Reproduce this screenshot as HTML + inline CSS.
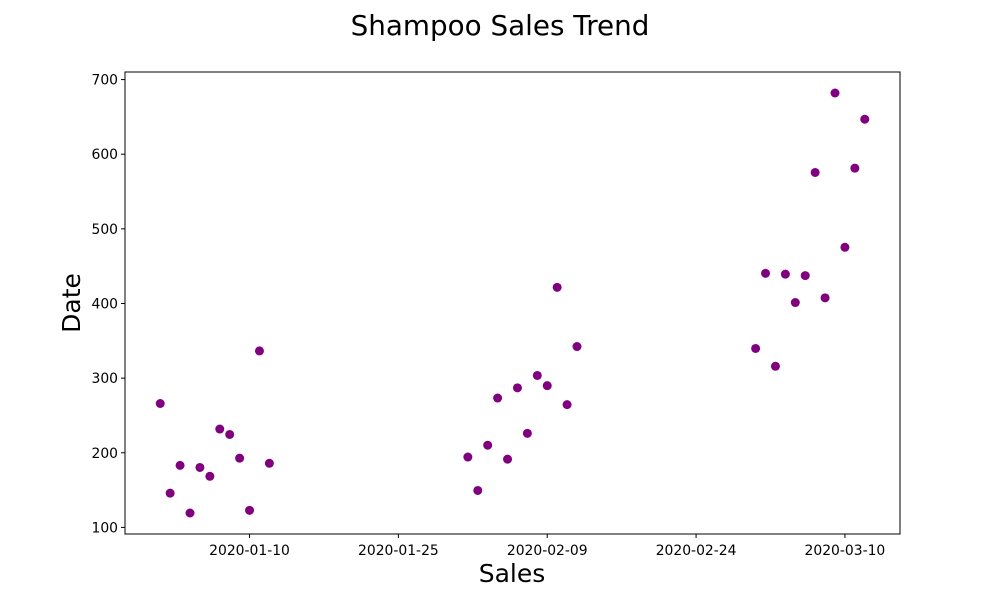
<!DOCTYPE html>
<html><head><meta charset="utf-8"><style>
body{margin:0;background:#fff;font-family:"Liberation Sans","DejaVu Sans",sans-serif}
svg text{font-family:"DejaVu Sans","Liberation Sans",sans-serif}
</style></head><body>
<svg id="chart" width="1000" height="600" xmlns="http://www.w3.org/2000/svg">
<rect width="1000" height="600" fill="#fff"/>
<text x="500" y="35" text-anchor="middle" font-size="27.8">Shampoo Sales Trend</text>
<text x="512" y="582" text-anchor="middle" font-size="25">Sales</text>
<text transform="translate(80,303) rotate(-90)" text-anchor="middle" font-size="25">Date</text>
<g id="ticks"></g>
<g id="points"></g>
<rect x="125" y="72" width="775" height="462" fill="none" stroke="#000" stroke-width="1"/>
</svg>
<script>
const dates = ["2020-01-01","2020-01-02","2020-01-03","2020-01-04","2020-01-05","2020-01-06","2020-01-07","2020-01-08","2020-01-09","2020-01-10","2020-01-11","2020-01-12",
"2020-02-01","2020-02-02","2020-02-03","2020-02-04","2020-02-05","2020-02-06","2020-02-07","2020-02-08","2020-02-09","2020-02-10","2020-02-11","2020-02-12",
"2020-03-01","2020-03-02","2020-03-03","2020-03-04","2020-03-05","2020-03-06","2020-03-07","2020-03-08","2020-03-09","2020-03-10","2020-03-11","2020-03-12"];
const sales = [266.0,145.9,183.1,119.3,180.3,168.5,231.8,224.5,192.8,122.9,336.5,185.9,
194.3,149.5,210.1,273.3,191.4,287.0,226.0,303.6,289.9,421.6,264.5,342.3,
339.7,440.4,315.9,439.3,401.3,437.4,575.5,407.6,682.0,475.3,581.3,646.9];
const xTicks = ["2020-01-10","2020-01-25","2020-02-09","2020-02-24","2020-03-10"];
const yTicks = [100,200,300,400,500,600,700];

const NS="http://www.w3.org/2000/svg";
const day=d=>Date.parse(d+"T00:00:00Z")/86400000;
const dmin=Math.min(...dates.map(day)), dmax=Math.max(...dates.map(day));
const dpad=(dmax-dmin)*0.05;
const vmin=Math.min(...sales), vmax=Math.max(...sales), vpad=(vmax-vmin)*0.05;
const L=125,R=900,T=72,B=534;
const xs=d=>L+(day(d)-(dmin-dpad))/((dmax+dpad)-(dmin-dpad))*(R-L);
const ys=v=>B-(v-(vmin-vpad))/((vmax+vpad)-(vmin-vpad))*(B-T);
const tg=document.getElementById("ticks"), pg=document.getElementById("points");
function mk(tag,attrs){const e=document.createElementNS(NS,tag);for(const k in attrs)e.setAttribute(k,attrs[k]);return e;}
xTicks.forEach(t=>{const x=xs(t);
 const l=mk("line",{x1:x,x2:x,y1:B,y2:B+4,stroke:"#000"});
 
 
 tg.appendChild(l);
 const tx=mk("text",{x:x,y:B+21,"text-anchor":"middle","font-size":"13.9"});tx.textContent=t;
 
 
 tg.appendChild(tx);});
yTicks.forEach(t=>{const y=ys(t);
 const l=mk("line",{x1:L-4,x2:L,y1:y,y2:y,stroke:"#000"});
 
 
 tg.appendChild(l);
 const tx=mk("text",{x:L-7,y:y+5,"text-anchor":"end","font-size":"13.9"});tx.textContent=t;
 
 
 tg.appendChild(tx);});
dates.forEach((d,i)=>{
 const c=mk("circle",{cx:xs(d),cy:ys(sales[i]),r:4.5,fill:"#800080"});
 
 
 pg.appendChild(c);});
</script>
</body></html>
